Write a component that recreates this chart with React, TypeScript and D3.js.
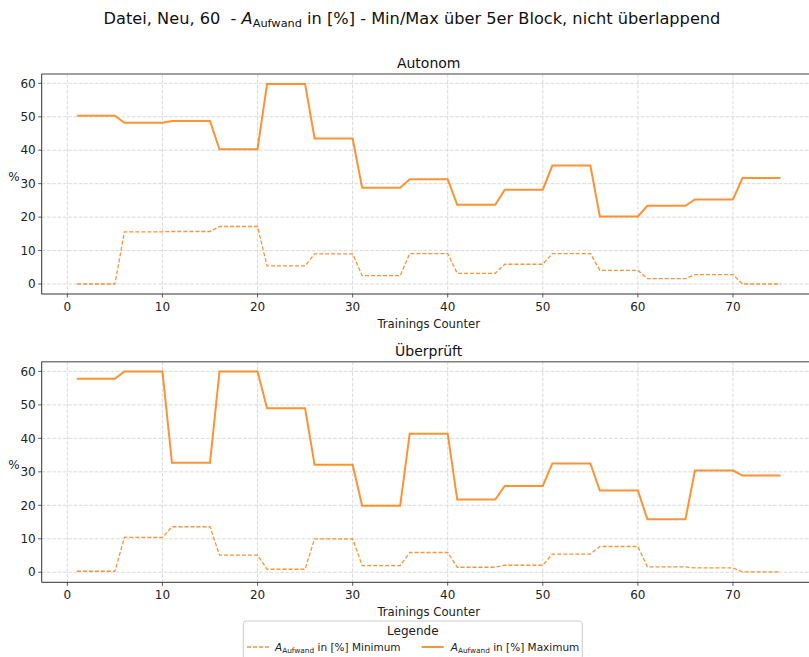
import React from "react";
import * as d3 from "d3";

// Block starts (5er Block, nicht überlappend)
const blockStarts = [1, 6, 11, 16, 21, 26, 31, 36, 41, 46, 51, 56, 61, 66, 71];
const blockSize = 5;

// Autonom
const autonomMin = [0.0, 15.6, 15.7, 17.2, 5.4, 9.0, 2.5, 9.1, 3.2, 5.9, 9.1, 4.1, 1.6, 2.8, 0.0];
const autonomMax = [50.3, 48.2, 48.7, 40.3, 59.8, 43.5, 28.8, 31.3, 23.7, 28.2, 35.4, 20.2, 23.4, 25.3, 31.7];

// Überprüft
const geprueftMin = [0.3, 10.4, 13.6, 5.1, 0.9, 10.0, 2.0, 5.9, 1.5, 2.1, 5.4, 7.7, 1.6, 1.3, 0.1];
const geprueftMax = [57.8, 60.0, 32.7, 60.0, 49.0, 32.1, 19.9, 41.4, 21.7, 25.8, 32.5, 24.4, 15.8, 30.4, 28.9];

const xTicks = [0, 10, 20, 30, 40, 50, 60, 70];
const yTicks = [0, 10, 20, 30, 40, 50, 60];

const FONT = "DejaVu Sans, sans-serif";
const ORANGE = "#ff7f0e";

function expand(values: number[]) {
  const pts: [number, number][] = [];
  blockStarts.forEach((s, i) => {
    d3.range(blockSize).forEach((k) => pts.push([s + k, values[i]]));
  });
  return pts;
}

type PanelProps = {
  title: string;
  top: number;
  bottom: number;
  yDomain: [number, number];
  minVals: number[];
  maxVals: number[];
};

const LEFT = 41.7;
const RIGHT = 815.7;

function Panel({ title, top, bottom, yDomain, minVals, maxVals }: PanelProps) {
  const x = d3.scaleLinear().domain([-2.7, 78.7]).range([LEFT, RIGHT]);
  const y = d3.scaleLinear().domain(yDomain).range([bottom, top]);
  const line = d3
    .line<[number, number]>()
    .x((d) => x(d[0]))
    .y((d) => y(d[1]));
  const clipId = "clip" + Math.round(top);
  return (
    <g>
      <defs>
        <clipPath id={clipId}>
          <rect x={LEFT} y={top} width={RIGHT - LEFT} height={bottom - top} />
        </clipPath>
      </defs>
      {yTicks.map((t) => (
        <line
          key={"gy" + t}
          x1={LEFT}
          x2={RIGHT}
          y1={y(t)}
          y2={y(t)}
          stroke="#d0d0d0"
          strokeWidth={0.8}
          strokeDasharray="3.7,1.6"
        />
      ))}
      {xTicks.map((t) => (
        <line
          key={"gx" + t}
          x1={x(t)}
          x2={x(t)}
          y1={top}
          y2={bottom}
          stroke="#d0d0d0"
          strokeWidth={0.8}
          strokeDasharray="3.7,1.6"
        />
      ))}
      <g clipPath={`url(#${clipId})`}>
        <path
          d={line(expand(minVals)) || ""}
          fill="none"
          stroke={ORANGE}
          strokeOpacity={0.85}
          strokeWidth={1.3}
          strokeDasharray="4,2"
        />
        <path
          d={line(expand(maxVals)) || ""}
          fill="none"
          stroke={ORANGE}
          strokeOpacity={0.85}
          strokeWidth={2}
        />
      </g>
      <line x1={LEFT} x2={RIGHT} y1={top} y2={top} stroke="#808080" strokeWidth={1.4} />
      <line x1={RIGHT} x2={RIGHT} y1={top} y2={bottom} stroke="#808080" strokeWidth={1.4} />
      <line x1={LEFT} x2={LEFT} y1={top} y2={bottom} stroke="#333" strokeWidth={1} />
      <line x1={LEFT} x2={RIGHT} y1={bottom} y2={bottom} stroke="#333" strokeWidth={1} />
      {yTicks.map((t) => (
        <g key={"ty" + t}>
          <line x1={LEFT - 3.5} x2={LEFT} y1={y(t)} y2={y(t)} stroke="#333" strokeWidth={0.8} />
          <text
            x={LEFT - 6}
            y={y(t)}
            dy="0.35em"
            textAnchor="end"
            fontSize={12}
            fontFamily={FONT}
            fill="#222"
          >
            {t}
          </text>
        </g>
      ))}
      {xTicks.map((t) => (
        <g key={"tx" + t}>
          <line x1={x(t)} x2={x(t)} y1={bottom} y2={bottom + 3.5} stroke="#333" strokeWidth={0.8} />
          <text
            x={x(t)}
            y={bottom + 17}
            textAnchor="middle"
            fontSize={12}
            fontFamily={FONT}
            fill="#222"
          >
            {t}
          </text>
        </g>
      ))}
      <text
        x={(LEFT + RIGHT) / 2}
        y={bottom + 34}
        textAnchor="middle"
        fontSize={11.7}
        fontFamily={FONT}
        fill="#222"
      >
        Trainings Counter
      </text>
      <text
        x={14}
        y={y(30) - 3}
        textAnchor="middle"
        fontSize={12}
        fontFamily={FONT}
        fill="#222"
      >
        %
      </text>
      <text
        x={(LEFT + RIGHT) / 2}
        y={top - 6}
        textAnchor="middle"
        fontSize={14}
        fontFamily={FONT}
        fill="#111"
      >
        {title}
      </text>
    </g>
  );
}

function ASub({ size }: { size: number }) {
  return (
    <>
      <tspan fontStyle="italic">A</tspan>
      <tspan fontSize={size * 0.7} dy={size * 0.18}>
        Aufwand
      </tspan>
      <tspan dy={-size * 0.18}>{" "}</tspan>
    </>
  );
}

export default function App() {
  return (
    <div style={{ position: "absolute", left: 0, top: 0 }}>
      <svg width={809} height={657} style={{ display: "block", background: "#fff" }}>
        <rect width={809} height={657} fill="#fff" />
        <text
          x={412}
          y={24}
          textAnchor="middle"
          fontSize={16.2}
          fontFamily={FONT}
          fill="#111"
          style={{ whiteSpace: "pre" }}
        >
          {"Datei, Neu, 60  - "}
          <ASub size={16.2} />
          {"in [%] - Min/Max über 5er Block, nicht überlappend"}
        </text>
        <Panel
          title="Autonom"
          top={74}
          bottom={294}
          yDomain={[-2.99, 62.79]}
          minVals={autonomMin}
          maxVals={autonomMax}
        />
        <Panel
          title="Überprüft"
          top={361.7}
          bottom={582.3}
          yDomain={[-3.0, 62.9]}
          minVals={geprueftMin}
          maxVals={geprueftMax}
        />
        <g>
          <rect
            x={243.3}
            y={621}
            width={339}
            height={45}
            rx={3}
            fill="#fff"
            stroke="#ccc"
            strokeWidth={1}
          />
          <text x={412.8} y={635} textAnchor="middle" fontSize={12} fontFamily={FONT} fill="#222">
            Legende
          </text>
          <line
            x1={247}
            x2={269}
            y1={647}
            y2={647}
            stroke={ORANGE}
            strokeOpacity={0.85}
            strokeWidth={1.3}
            strokeDasharray="4,2"
          />
          <text x={275} y={651} fontSize={10.5} fontFamily={FONT} fill="#222">
            <ASub size={10.5} />
            {"in [%] Minimum"}
          </text>
          <line
            x1={421.7}
            x2={443.7}
            y1={647}
            y2={647}
            stroke={ORANGE}
            strokeOpacity={0.85}
            strokeWidth={2}
          />
          <text x={450.7} y={651} fontSize={10.5} fontFamily={FONT} fill="#222">
            <ASub size={10.5} />
            {"in [%] Maximum"}
          </text>
        </g>
      </svg>
    </div>
  );
}
